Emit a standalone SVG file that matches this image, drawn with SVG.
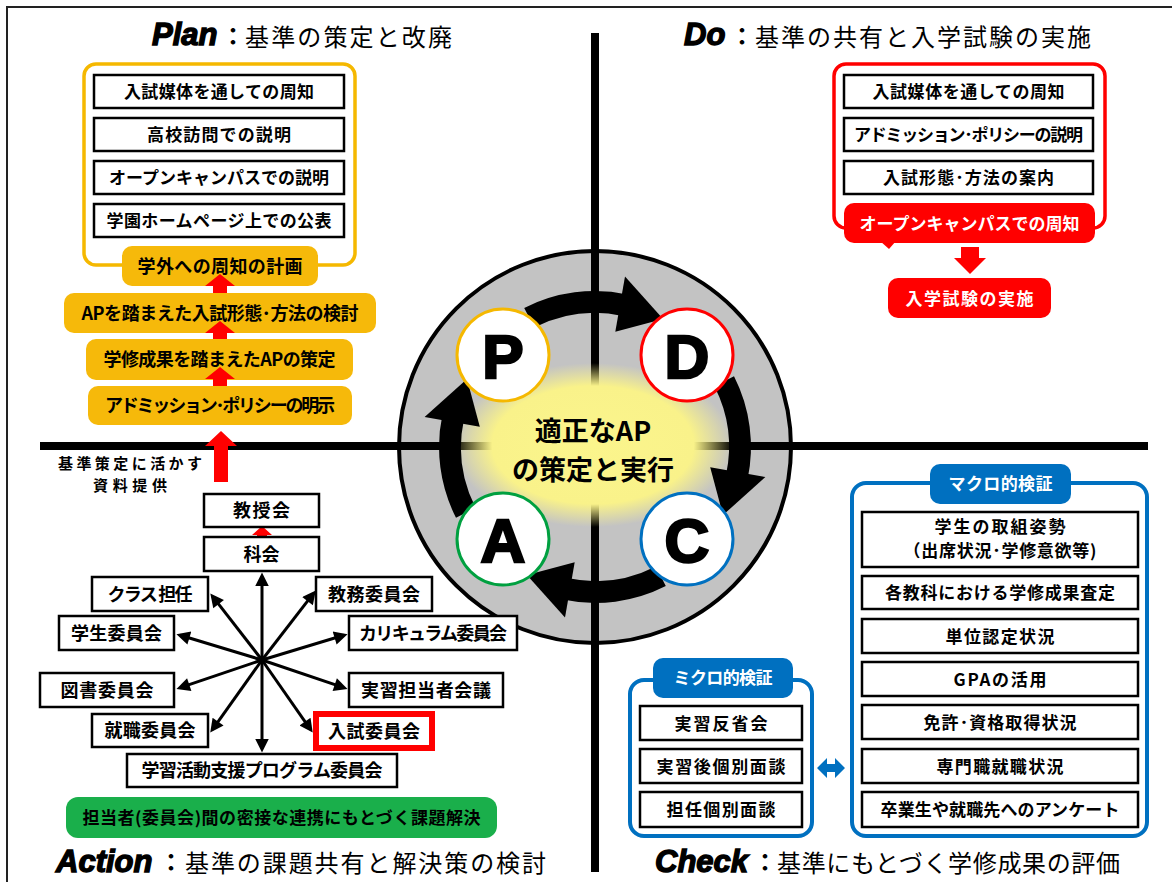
<svg xmlns="http://www.w3.org/2000/svg" width="1172" height="882" viewBox="0 0 1172 882">
<defs>
<style>
.jp{font-family:"Noto Sans CJK JP","Noto Sans CJK SC",sans-serif}
.t{font-family:"Noto Sans CJK JP","Noto Sans CJK SC",sans-serif;font-size:17px;font-weight:bold;text-anchor:middle;fill:#000}
.tl{font-family:"Noto Sans CJK JP","Noto Sans CJK SC",sans-serif;font-size:18px;font-weight:bold;text-anchor:middle;fill:#000}
.tw{font-family:"Noto Sans CJK JP","Noto Sans CJK SC",sans-serif;font-size:17px;font-weight:bold;text-anchor:middle;fill:#fff}
.h{font-family:"Noto Sans CJK JP","Noto Sans CJK SC",sans-serif;font-size:24px;font-weight:normal;fill:#000}
.hc{font-family:"Noto Sans CJK JP","Noto Sans CJK SC",sans-serif;font-size:24px;font-weight:bold;fill:#000}
.en{font-family:"Liberation Sans",Arial,sans-serif;font-weight:bold;font-style:italic;font-size:31px;fill:#000;stroke:#000;stroke-width:1.4}
.note{font-family:"Noto Sans CJK JP","Noto Sans CJK SC",sans-serif;font-size:15px;font-weight:bold;text-anchor:middle;fill:#000}
.bx{fill:#fff;stroke:#000;stroke-width:2.5}
.org{fill:#f6b90a}
.red{fill:#ff0000}
.blu{fill:#0070c0}
.ln{stroke:#000;stroke-width:3;fill:none;marker-end:url(#ah)}
.big{font-family:"Liberation Sans",Arial,sans-serif;font-weight:bold;font-size:62px;text-anchor:middle;fill:#000;stroke:#000;stroke-width:2.5}
</style>
<marker id="ah" viewBox="0 0 10 10" refX="7" refY="5" markerWidth="5" markerHeight="4.5" markerUnits="strokeWidth" orient="auto">
<path d="M0,0 L10,5 L0,10 Z" fill="#000"/>
</marker>
<radialGradient id="yg" cx="0.5" cy="0.5" r="0.5">
<stop offset="0" stop-color="#fbf58c"/>
<stop offset="0.72" stop-color="#f9f28a"/>
<stop offset="1" stop-color="#f9f28a" stop-opacity="0"/>
</radialGradient>
<g id="cyc">
<path d="M529.2 317.8 A145 145 0 0 1 625.1 305.2" fill="none" stroke="#000" stroke-width="22"/>
<polygon points="615.3,331.8 625.0,276.6 663.1,319.0" fill="#000"/>
</g>
</defs>
<rect width="1172" height="882" fill="#fff"/>
<path d="M7 882 V7 H1172" fill="none" stroke="#222" stroke-width="2"/>

<g id="cycle">
<circle cx="595" cy="447" r="196" fill="#c3c3c3" stroke="#000" stroke-width="4"/>
</g>
<g id="cross">
<line x1="595" y1="33" x2="595" y2="872" stroke="#000" stroke-width="8"/>
<line x1="40" y1="446" x2="1148" y2="446" stroke="#000" stroke-width="8"/>
</g>
<g id="center">
<ellipse cx="593" cy="445" rx="140" ry="82" fill="url(#yg)"/>
<use href="#cyc"/>
<use href="#cyc" transform="rotate(90 595 447)"/>
<use href="#cyc" transform="rotate(180 595 447)"/>
<use href="#cyc" transform="rotate(270 595 447)"/>
<text class="jp" x="593" y="441" font-size="27" font-weight="bold" text-anchor="middle">適正なAP<tspan x="593" dy="39">の策定と実行</tspan></text>
</g>
<g id="node-P"><circle cx="503" cy="355" r="46" fill="#fff" stroke="#f5b800" stroke-width="3"/><text class="big" x="503" y="378">P</text></g>
<g id="node-D"><circle cx="687" cy="355" r="46" fill="#fff" stroke="#ff0000" stroke-width="3"/><text class="big" x="687" y="378">D</text></g>
<g id="node-A"><circle cx="503" cy="539" r="46" fill="#fff" stroke="#00a040" stroke-width="3"/><text class="big" x="503" y="562">A</text></g>
<g id="node-C"><circle cx="687" cy="539" r="46" fill="#fff" stroke="#0070c0" stroke-width="3"/><text class="big" x="687" y="562">C</text></g>

<g id="headings">
<text class="en" x="152" y="45">Plan</text>
<text class="hc" x="221" y="45">：</text>
<text class="h" x="245" y="46" textLength="207">基準の策定と改廃</text>
<text class="en" x="684" y="45">Do</text>
<text class="hc" x="730" y="45">：</text>
<text class="h" x="755" y="46" textLength="336">基準の共有と入学試験の実施</text>
<text class="en" x="56" y="872">Action</text>
<text class="hc" x="159" y="871">：</text>
<text class="h" x="185" y="872" textLength="361">基準の課題共有と解決策の検討</text>
<text class="en" x="655" y="872">Check</text>
<text class="hc" x="753" y="871">：</text>
<text class="h" x="777" y="872" textLength="343">基準にもとづく学修成果の評価</text>
</g>

<g id="plan-group">
<rect x="84" y="64" width="271" height="201" rx="12" fill="none" stroke="#f5b800" stroke-width="3.5"/>
<g id="plan-b1"><rect class="bx" x="94" y="75" width="250" height="33"/><text class="t" x="219" y="98" textLength="190">入試媒体を通しての周知</text></g>
<g id="plan-b2"><rect class="bx" x="94" y="118" width="250" height="33"/><text class="t" x="219" y="141" textLength="144">高校訪問での説明</text></g>
<g id="plan-b3"><rect class="bx" x="94" y="161" width="250" height="33"/><text class="t" x="219" y="184" textLength="220">オープンキャンパスでの説明</text></g>
<g id="plan-b4"><rect class="bx" x="94" y="204" width="250" height="33"/><text class="t" x="219" y="227" textLength="225">学園ホームページ上での公表</text></g>
</g>
<g id="plan-p1"><rect class="org" x="122" y="246" width="196" height="40" rx="10"/><text class="tl" x="220" y="272.5" textLength="165">学外への周知の計画</text></g>
<g id="plan-p2"><rect class="org" x="64" y="293" width="312" height="40" rx="10"/><text class="tl" x="220" y="319.5" textLength="277">APを踏まえた入試形態･方法の検討</text></g>
<g id="plan-p3"><rect class="org" x="86" y="339" width="267" height="41" rx="10"/><text class="tl" x="219.5" y="366" textLength="232">学修成果を踏まえたAPの策定</text></g>
<g id="plan-p4"><rect class="org" x="88" y="386" width="264" height="39" rx="10"/><text class="tl" x="220" y="412" textLength="230">アドミッション･ポリシーの明示</text></g>

<g id="connectors">
<path class="red" d="M220 274 L235 286 H227 V293 H213 V286 H205 Z"/>
<path class="red" d="M220 321 L235 333 H227 V339 H213 V333 H205 Z"/>
<path class="red" d="M220 367 L235 379 H227 V386 H213 V379 H205 Z"/>
<path class="red" d="M221 431 L237 446 H228 V482 H214 V446 H205 Z"/>
<path class="red" d="M262 526 L272 535 H267 V542 H257 V535 H252 Z"/>
<path class="red" d="M961 247 H979 V258 H986 L970 274 L954 258 H961 Z"/>
<path class="blu" d="M817 768 L827 758 V764 H835 V758 L845 768 L835 778 V772 H827 V778 Z"/>
<line class="ln" x1="262" y1="660" x2="262" y2="576.5"/>
<line class="ln" x1="262" y1="660" x2="262" y2="748.5"/>
<line class="ln" x1="262" y1="660" x2="212.8" y2="596.6"/>
<line class="ln" x1="262" y1="660" x2="313.3" y2="593.6"/>
<line class="ln" x1="262" y1="660" x2="180.3" y2="635.3"/>
<line class="ln" x1="262" y1="660" x2="343.7" y2="635.3"/>
<line class="ln" x1="262" y1="660" x2="180.3" y2="687.6"/>
<line class="ln" x1="262" y1="660" x2="343.7" y2="687.6"/>
<line class="ln" x1="262" y1="660" x2="212.6" y2="729.3"/>
<line class="ln" x1="262" y1="660" x2="310.4" y2="729.3"/>
</g>

<g id="note-left">
<text class="note" x="130" y="469"><tspan x="130" textLength="144">基準策定に活かす</tspan><tspan x="130" dy="22" textLength="74">資料提供</tspan></text>
</g>

<g id="do-group">
<rect x="834" y="64" width="271" height="164" rx="12" fill="none" stroke="#ff0000" stroke-width="3.5"/>
<g id="do-b1"><rect class="bx" x="844" y="75" width="249" height="33"/><text class="t" x="968.5" y="98" textLength="192">入試媒体を通しての周知</text></g>
<g id="do-b2"><rect class="bx" x="844" y="118" width="249" height="33"/><text class="t" x="968.5" y="141" textLength="229">アドミッション･ポリシーの説明</text></g>
<g id="do-b3"><rect class="bx" x="844" y="161" width="249" height="33"/><text class="t" x="968.5" y="184" textLength="171">入試形態･方法の案内</text></g>
</g>
<g id="do-oc"><path class="red" d="M880 241 L896 241 L889 249 Z"/><rect class="red" x="844" y="203" width="251" height="40" rx="10"/><text class="tw" x="969.5" y="229.5" textLength="220">オープンキャンパスでの周知</text></g>
<g id="do-exam"><rect class="red" x="888" y="278" width="163" height="40" rx="10"/><text class="tw" x="969.5" y="304.5" textLength="128">入学試験の実施</text></g>

<g id="check-macro">
<rect x="852" y="483" width="295" height="353" rx="14" fill="none" stroke="#0070c0" stroke-width="4"/>
<rect class="blu" x="930" y="464" width="141" height="40" rx="10"/>
<text class="tw" x="1000.5" y="490" textLength="104">マクロ的検証</text>
<g id="m1"><rect class="bx" x="862" y="512" width="276" height="55"/><text class="t" x="1000" y="533" textLength="131">学生の取組姿勢</text><text class="t" x="1000" y="557" textLength="193">（出席状況･学修意欲等)</text></g>
<g id="m2"><rect class="bx" x="862" y="576" width="276" height="33"/><text class="t" x="1000" y="599" textLength="230">各教科における学修成果査定</text></g>
<g id="m3"><rect class="bx" x="862" y="619" width="276" height="34"/><text class="t" x="1000" y="642.5" textLength="109">単位認定状況</text></g>
<g id="m4"><rect class="bx" x="862" y="662" width="276" height="34"/><text class="t" x="1000" y="685.5" textLength="93">GPAの活用</text></g>
<g id="m5"><rect class="bx" x="862" y="705" width="276" height="34"/><text class="t" x="1000" y="728.5" textLength="153">免許･資格取得状況</text></g>
<g id="m6"><rect class="bx" x="862" y="749" width="276" height="34"/><text class="t" x="1000" y="772.5" textLength="127">専門職就職状況</text></g>
<g id="m7"><rect class="bx" x="862" y="792" width="276" height="35"/><text class="t" x="1000" y="816" textLength="239">卒業生や就職先へのアンケート</text></g>
</g>
<g id="check-micro">
<rect x="630" y="680" width="182" height="156" rx="14" fill="none" stroke="#0070c0" stroke-width="4"/>
<rect class="blu" x="653" y="658" width="140" height="40" rx="10"/>
<text class="tw" x="723" y="684" textLength="99">ミクロ的検証</text>
<g id="s1"><rect class="bx" x="640" y="706" width="162" height="34"/><text class="t" x="721" y="729.5" textLength="93">実習反省会</text></g>
<g id="s2"><rect class="bx" x="640" y="749" width="162" height="34"/><text class="t" x="721" y="772.5" textLength="129">実習後個別面談</text></g>
<g id="s3"><rect class="bx" x="640" y="792" width="162" height="35"/><text class="t" x="721" y="816" textLength="109">担任個別面談</text></g>
</g>

<g id="action-group">
<g id="a-kyoju"><rect class="bx" x="204" y="494" width="115" height="33"/><text class="tl" x="261.5" y="517" textLength="57">教授会</text></g>
<g id="a-kakai"><rect class="bx" x="204" y="537" width="115" height="34"/><text class="tl" x="261.5" y="560.5" textLength="36">科会</text></g>
<g id="a-class"><rect class="bx" x="92" y="577" width="116" height="34"/><text class="tl" x="150" y="600.5" textLength="85">クラス 担任</text></g>
<g id="a-kyomu"><rect class="bx" x="316" y="577" width="116" height="34"/><text class="tl" x="374" y="600.5" textLength="92">教務委員会</text></g>
<g id="a-gakusei"><rect class="bx" x="59" y="616" width="115" height="34"/><text class="tl" x="116.5" y="639.5" textLength="91">学生委員会</text></g>
<g id="a-curri"><rect class="bx" x="349" y="616" width="168" height="34"/><text class="tl" x="433" y="639.5" textLength="148">カリキュラム委員会</text></g>
<g id="a-tosho"><rect class="bx" x="40" y="673" width="134" height="34"/><text class="tl" x="107" y="696.5" textLength="93">図書委員会</text></g>
<g id="a-jisshu"><rect class="bx" x="349" y="673" width="154" height="34"/><text class="tl" x="426" y="696.5" textLength="130">実習担当者会議</text></g>
<g id="a-shushoku"><rect class="bx" x="92" y="714" width="116" height="33"/><text class="tl" x="150" y="737" textLength="91">就職委員会</text></g>
<g id="a-nyushi"><rect x="316" y="714" width="116" height="34" fill="#fff" stroke="#ff0000" stroke-width="6"/><text class="tl" x="374" y="737.5" textLength="92">入試委員会</text></g>
<g id="a-gakushu"><rect class="bx" x="127" y="754" width="270" height="33"/><text class="tl" x="262" y="777" textLength="241">学習活動支援プログラム委員会</text></g>
<g id="a-green"><rect x="66" y="797" width="431" height="41" rx="12" fill="#1aaf4b"/><text class="t" x="281.5" y="824" textLength="398">担当者(委員会)間の密接な連携にもとづく課題解決</text></g>
</g>
</svg>
